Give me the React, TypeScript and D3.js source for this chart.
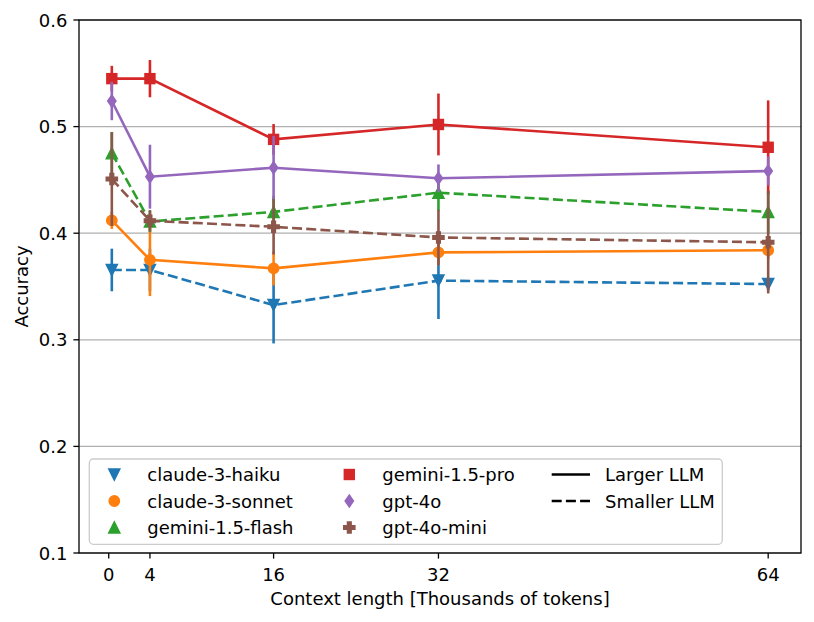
import * as d3 from "d3";

// context lengths (thousands of tokens) at which models were evaluated
const contextK = [0.3, 4, 16, 32, 64];
const xTicks = [0, 4, 16, 32, 64];
const yTicks = [0.1, 0.2, 0.3, 0.4, 0.5, 0.6];

const models = ["claude-3-haiku", "claude-3-sonnet", "gemini-1.5-flash", "gemini-1.5-pro", "gpt-4o", "gpt-4o-mini"];

const haikuAcc = [0.3655, 0.3655, 0.3326, 0.3555, 0.3523];
const haikuErr = [0.02, 0.02, 0.036, 0.036, 0.006];
const sonnetAcc = [0.412, 0.375, 0.367, 0.382, 0.384];
const sonnetErr = [0.008, 0.034, 0.016, 0.012, 0.008];
const flashAcc = [0.475, 0.411, 0.42, 0.438, 0.42];
const flashErr = [0.02, 0.01, 0.015, 0.017, 0.02];
const proAcc = [0.545, 0.545, 0.488, 0.502, 0.4806];
const proErr = [0.012, 0.0175, 0.0144, 0.029, 0.044];
const gpt4oAcc = [0.524, 0.453, 0.4614, 0.4515, 0.4583];
const gpt4oErr = [0.018, 0.03, 0.03, 0.013, 0.0135];
const miniAcc = [0.4508, 0.4117, 0.406, 0.396, 0.3915];
const miniErr = [0.044, 0.01, 0.026, 0.026, 0.048];

const accs = [haikuAcc, sonnetAcc, flashAcc, proAcc, gpt4oAcc, miniAcc];
const errs = [haikuErr, sonnetErr, flashErr, proErr, gpt4oErr, miniErr];
const smaller = [true, false, true, false, false, true];
const colors = ["#1f77b4", "#ff7f0e", "#2ca02c", "#d62728", "#9467bd", "#8c564b"];
const shapes = ["v", "o", "^", "s", "d", "P"];

const W = 814;
const H = 622;
const m = { left: 79, right: 801, top: 20, bottom: 553 };
const FONT = "DejaVu Sans, sans-serif";
const FS = 18;
const LW = 2.6;

function Marker({ shape, x, y, color }: { shape: string; x: number; y: number; color: string }) {
  const common = { fill: color, stroke: color, strokeWidth: 1.4, strokeLinejoin: "miter" as const };
  const t = `translate(${x},${y})`;
  if (shape === "o") return <circle cx={x} cy={y} r={5.2} {...common} />;
  if (shape === "s") return <rect x={x - 5} y={y - 5} width={10} height={10} {...common} />;
  if (shape === "v") return <path transform={t} d="M0,5.6L-5.6,-5.6L5.6,-5.6Z" {...common} />;
  if (shape === "^") return <path transform={t} d="M0,-5.6L-5.6,5.6L5.6,5.6Z" {...common} />;
  if (shape === "d") return <path transform={t} d="M0,-6L4.2,0L0,6L-4.2,0Z" {...common} />;
  // filled plus
  const a = 5.6;
  const b = a / 3;
  return (
    <path
      transform={t}
      d={`M${-b},${-a}H${b}V${-b}H${a}V${b}H${b}V${a}H${-b}V${b}H${-a}V${-b}H${-b}Z`}
      {...common}
    />
  );
}

export default function App() {
  const x = d3.scaleLinear().domain([-2.885, 67.185]).range([m.left, m.right]);
  const y = d3.scaleLinear().domain([0.1, 0.6]).range([m.bottom, m.top]);
  const line = d3
    .line<number>()
    .x((_, i) => x(contextK[i]))
    .y((d) => y(d));

  const legendRows = [0, 1, 2].map((r) => 474.5 + r * 26.5);
  const legendCols = [114.3, 349.3];

  return (
    <svg width={W} height={H} style={{ display: "block", margin: "-8px" }} fontFamily={FONT}>
      <rect width={W} height={H} fill="#fff" />

      {/* grid */}
      {yTicks.map((t) => (
        <line key={t} x1={m.left} x2={m.right} y1={y(t)} y2={y(t)} stroke="#b0b0b0" strokeWidth={1.3} />
      ))}

      {/* series */}
      {accs.map((acc, si) => (
        <g key={models[si]}>
          {acc.map((v, i) => (
            <line
              key={i}
              x1={x(contextK[i])}
              x2={x(contextK[i])}
              y1={y(v - errs[si][i])}
              y2={y(v + errs[si][i])}
              stroke={colors[si]}
              strokeWidth={LW}
            />
          ))}
          <path
            d={line(acc) ?? ""}
            fill="none"
            stroke={colors[si]}
            strokeWidth={LW}
            strokeDasharray={smaller[si] ? "10 4.2" : undefined}
          />
          {acc.map((v, i) => (
            <Marker key={i} shape={shapes[si]} x={x(contextK[i])} y={y(v)} color={colors[si]} />
          ))}
        </g>
      ))}

      {/* legend */}
      <rect x={89.3} y={459} width={633} height={85.3} rx={4} fill="#fff" fillOpacity={0.8} stroke="#cccccc" strokeWidth={1.3} />
      {models.map((name, i) => {
        const col = Math.floor(i / 3);
        const row = i % 3;
        const cx = legendCols[col];
        const cy = legendRows[row];
        return (
          <g key={name}>
            <Marker shape={shapes[i]} x={cx} y={cy} color={colors[i]} />
            <text x={cx + 33} y={cy + 6.5} fontSize={FS} fill="#000">
              {name}
            </text>
          </g>
        );
      })}
      {["Larger LLM", "Smaller LLM"].map((name, i) => (
        <g key={name}>
          <line
            x1={551.7}
            x2={590}
            y1={legendRows[i]}
            y2={legendRows[i]}
            stroke="#000"
            strokeWidth={LW}
            strokeDasharray={i === 1 ? "10 4.2" : undefined}
          />
          <text x={605} y={legendRows[i] + 6.5} fontSize={FS} fill="#000">
            {name}
          </text>
        </g>
      ))}

      {/* spines */}
      <rect x={m.left} y={m.top} width={m.right - m.left} height={m.bottom - m.top} fill="none" stroke="#000" strokeWidth={1.3} />

      {/* x axis */}
      {xTicks.map((t) => (
        <g key={t}>
          <line x1={x(t)} x2={x(t)} y1={m.bottom} y2={m.bottom + 5.6} stroke="#000" strokeWidth={1.3} />
          <text x={x(t)} y={580.5} textAnchor="middle" fontSize={FS} fill="#000">
            {t}
          </text>
        </g>
      ))}
      <text x={(m.left + m.right) / 2} y={605} textAnchor="middle" fontSize={FS} fill="#000">
        Context length [Thousands of tokens]
      </text>

      {/* y axis */}
      {yTicks.map((t) => (
        <g key={t}>
          <line x1={m.left - 5.6} x2={m.left} y1={y(t)} y2={y(t)} stroke="#000" strokeWidth={1.3} />
          <text x={67.5} y={y(t) + 6.5} textAnchor="end" fontSize={FS} fill="#000">
            {t.toFixed(1)}
          </text>
        </g>
      ))}
      <text
        transform={`translate(28,${(m.top + m.bottom) / 2}) rotate(-90)`}
        textAnchor="middle"
        fontSize={FS}
        fill="#000"
      >
        Accuracy
      </text>
    </svg>
  );
}
